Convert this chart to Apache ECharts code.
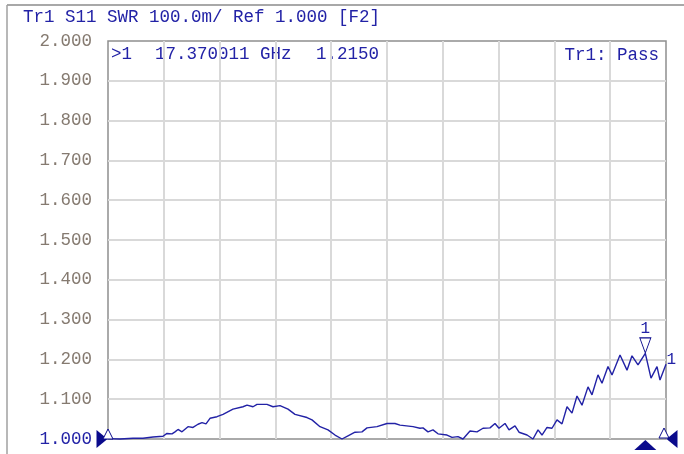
<!DOCTYPE html>
<html>
<head>
<meta charset="utf-8">
<title>Tr1 S11 SWR</title>
<script src="https://cdn.jsdelivr.net/npm/echarts@6/dist/echarts.min.js"></script>
<style>
  html, body { margin: 0; padding: 0; background: #fff; }
  /* 必须要设置大小 */
  #swr { width: 684px; height: 454px; }
</style>
</head>
<body>
<div id="swr"></div>
<script>
// 扫频范围 (GHz)
const START_GHZ = 1.0;
const STOP_GHZ = 18.0;

// 迹线数据：频率 (GHz) 与 SWR
const FREQ_GHZ = [
  1.000, 1.366, 1.762, 2.066, 2.371, 2.676, 2.798, 2.950, 3.041, 3.133,
  3.254, 3.437, 3.590, 3.742, 3.864, 3.986, 4.108, 4.321, 4.504, 4.808,
  5.113, 5.235, 5.418, 5.539, 5.844, 6.027, 6.240, 6.484, 6.697, 7.063,
  7.215, 7.459, 7.703, 7.916, 8.129, 8.312, 8.525, 8.738, 8.891, 9.195,
  9.500, 9.744, 9.896, 10.292, 10.505, 10.597, 10.749, 10.901, 11.054, 11.328,
  11.480, 11.663, 11.815, 12.029, 12.242, 12.425, 12.638, 12.790, 12.912, 13.095,
  13.217, 13.400, 13.522, 13.766, 13.948, 14.101, 14.222, 14.375, 14.527, 14.679,
  14.832, 14.984, 15.136, 15.288, 15.441, 15.624, 15.746, 15.928, 16.050, 16.233,
  16.355, 16.599, 16.812, 16.964, 17.147, 17.370, 17.543, 17.726, 17.817, 18.000,
];
const SWR = [
  1.001, 1.000, 1.002, 1.002, 1.005, 1.007, 1.014, 1.013, 1.018, 1.024,
  1.018, 1.031, 1.029, 1.037, 1.041, 1.038, 1.052, 1.056, 1.062, 1.075,
  1.081, 1.085, 1.081, 1.087, 1.087, 1.081, 1.084, 1.075, 1.062, 1.054,
  1.048, 1.031, 1.023, 1.010, 1.000, 1.008, 1.017, 1.018, 1.028, 1.031,
  1.039, 1.039, 1.035, 1.031, 1.027, 1.028, 1.018, 1.023, 1.013, 1.010,
  1.004, 1.006, 1.000, 1.020, 1.018, 1.027, 1.028, 1.039, 1.027, 1.039,
  1.023, 1.033, 1.017, 1.010, 1.000, 1.023, 1.010, 1.029, 1.027, 1.048,
  1.038, 1.081, 1.065, 1.108, 1.085, 1.131, 1.111, 1.161, 1.140, 1.182,
  1.161, 1.211, 1.173, 1.209, 1.186, 1.215, 1.153, 1.182, 1.148, 1.188,
];

// 纵轴：Ref 1.000，100.0m/格
const REF_LEVEL = 1.0;
const SCALE_DIV = 0.1;
const Y_DIVS = 10;
const X_DIVS = 10;

// 标记 1
const MARKER_GHZ = 17.370011;
const MARKER_SWR = 1.2150;

// 文本
const TITLE_TEXT = "Tr1 S11 SWR 100.0m/ Ref 1.000 [F2]";
const MARKER_ID = ">1";
const MARKER_FREQ_TEXT = "17.370011 GHz";
const MARKER_VAL_TEXT = "1.2150";
const LIMIT_TEXT = "Tr1: Pass";

const BLUE = "#2222a6";
const NAVY = "#0a0a8c";
const FONT = "Liberation Mono";

const span = STOP_GHZ - START_GHZ;
// 横轴用相对起始频率的偏移，便于刻度从 0 开始
const traceData = FREQ_GHZ.map((f, i) => [f - START_GHZ, SWR[i]]);

const myChart = echarts.init(document.getElementById("swr"));

const option = {
  backgroundColor: "#fff",
  animation: false,
  grid: {
    left: 108,
    top: 41,
    right: 18,
    bottom: 15,
    show: true,
    borderColor: "#8f8f8f",
    borderWidth: 1.5,
    backgroundColor: "#fff",
  },
  xAxis: {
    type: "value",
    min: 0,
    max: span,
    interval: span / X_DIVS,
    axisLine: { show: false },
    axisTick: { show: false },
    axisLabel: { show: false },
    splitLine: {
      show: true,
      showMinLine: false,
      showMaxLine: false,
      lineStyle: { color: "#d9d9d9", width: 2 },
    },
  },
  yAxis: {
    type: "value",
    min: REF_LEVEL,
    max: REF_LEVEL + SCALE_DIV * Y_DIVS,
    interval: SCALE_DIV,
    axisLine: { show: false },
    axisTick: { show: false },
    axisLabel: {
      margin: 16,
      fontFamily: FONT,
      fontSize: 17.5,
      formatter: (v) => v.toFixed(3),
      color: (v) => (Math.abs(v - REF_LEVEL) < 1e-6 ? BLUE : "#857a70"),
    },
    splitLine: {
      show: true,
      showMinLine: false,
      showMaxLine: false,
      lineStyle: { color: "#d9d9d9", width: 2 },
    },
  },
  graphic: [
    // 外框
    { type: "line", shape: { x1: 7, y1: 5, x2: 684, y2: 5 }, style: { stroke: "#a8a8a8", lineWidth: 2 } },
    { type: "line", shape: { x1: 7, y1: 5, x2: 7, y2: 454 }, style: { stroke: "#a0a0a0", lineWidth: 1.5 } },
    {
      type: "text",
      style: { text: TITLE_TEXT, x: 23, y: 17, fill: BLUE, font: "17.5px " + FONT, verticalAlign: "middle" },
    },
    {
      type: "text",
      style: { text: MARKER_ID, x: 111, y: 54, fill: BLUE, font: "17.5px " + FONT, verticalAlign: "middle" },
    },
    {
      type: "text",
      style: { text: MARKER_FREQ_TEXT, x: 155, y: 54, fill: BLUE, font: "17.5px " + FONT, verticalAlign: "middle" },
    },
    {
      type: "text",
      style: { text: MARKER_VAL_TEXT, x: 316, y: 54, fill: BLUE, font: "17.5px " + FONT, verticalAlign: "middle" },
    },
    {
      type: "text",
      style: { text: LIMIT_TEXT, x: 659, y: 55, fill: BLUE, font: "17.5px " + FONT, align: "right", verticalAlign: "middle" },
    },
  ],
  series: [
    {
      name: "Tr1",
      type: "line",
      data: traceData,
      showSymbol: false,
      clip: false,
      lineStyle: { color: BLUE, width: 1.4 },
      markPoint: {
        silent: true,
        data: [
          // 迹线上的标记 1
          {
            coord: [MARKER_GHZ - START_GHZ, MARKER_SWR],
            symbol: "triangle",
            symbolRotate: 180,
            symbolSize: [11, 15],
            symbolOffset: [0, -8],
            itemStyle: { color: "#fff", borderColor: NAVY, borderWidth: 1 },
            label: {
              show: true,
              position: "top",
              distance: 1,
              formatter: "1",
              color: BLUE,
              fontFamily: FONT,
              fontSize: 16,
            },
          },
          // 横轴上的标记位置
          {
            coord: [MARKER_GHZ - START_GHZ, REF_LEVEL],
            symbol: "triangle",
            symbolSize: [22, 10],
            symbolOffset: [0, 6],
            itemStyle: { color: NAVY },
            label: { show: false },
          },
          // 迹线末端编号
          {
            coord: [span, SWR[SWR.length - 1]],
            symbol: "circle",
            symbolSize: 1,
            itemStyle: { color: "rgba(0,0,0,0)" },
            label: {
              show: true,
              position: "right",
              distance: 0,
              offset: [0, -4],
              formatter: "1",
              color: BLUE,
              fontFamily: FONT,
              fontSize: 16,
            },
          },
          // 左侧参考电平
          {
            coord: [0, REF_LEVEL],
            symbol: "triangle",
            symbolRotate: -90,
            symbolSize: [18, 11],
            symbolOffset: [-6, 0],
            itemStyle: { color: NAVY },
            label: { show: false },
          },
          {
            coord: [0, REF_LEVEL],
            symbol: "triangle",
            symbolSize: [10, 10],
            symbolOffset: [0, -5],
            itemStyle: { color: "#fff", borderColor: NAVY, borderWidth: 1 },
            label: { show: false },
          },
          // 右侧参考电平
          {
            coord: [span, REF_LEVEL],
            symbol: "triangle",
            symbolSize: [10, 10],
            symbolOffset: [-2, -6],
            itemStyle: { color: "#fff", borderColor: NAVY, borderWidth: 1 },
            label: { show: false },
          },
          {
            coord: [span, REF_LEVEL],
            symbol: "triangle",
            symbolRotate: 90,
            symbolSize: [18, 11],
            symbolOffset: [6, 0],
            itemStyle: { color: NAVY },
            label: { show: false },
          },
        ],
      },
    },
  ],
};

myChart.setOption(option);

// 根据页面大小自动响应图表大小
window.addEventListener("resize", function () {
  myChart.resize();
});
</script>
</body>
</html>
